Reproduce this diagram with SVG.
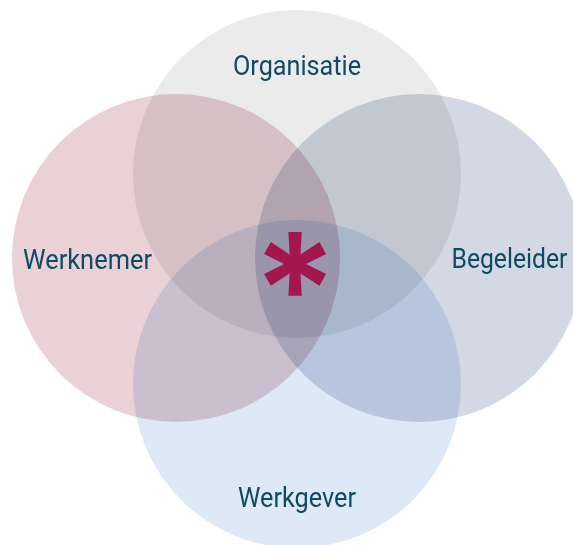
<svg xmlns="http://www.w3.org/2000/svg" width="573" height="545" viewBox="0 0 573 545">
  <style>
    .disc { mix-blend-mode: multiply; }
    .label { font-family: Roboto, "Liberation Sans", sans-serif; font-size: 28px; fill: #0f4a63; text-anchor: middle; }
    .mark { font-family: Inter, "DejaVu Sans", sans-serif; font-size: 156px; font-weight: 600; fill: #a3174f; text-anchor: middle; }
  </style>
  <rect width="573" height="545" fill="#ffffff"/>
  <g style="isolation: isolate">
    <g id="organisatie">
      <circle class="disc" cx="297" cy="174" r="164" fill="#ebebeb"/>
    </g>
    <g id="werknemer">
      <circle class="disc" cx="176" cy="258" r="164" fill="#e9d1d6"/>
    </g>
    <g id="begeleider">
      <circle class="disc" cx="419" cy="258" r="164" fill="#d3d9e4"/>
    </g>
    <g id="werkgever">
      <circle class="disc" cx="297" cy="384" r="164" fill="#dde9f6"/>
    </g>
  </g>
  <g id="labels">
    <text class="label" x="297" y="75" textLength="128" lengthAdjust="spacingAndGlyphs">Organisatie</text>
    <text class="label" x="87.5" y="269" textLength="129" lengthAdjust="spacingAndGlyphs">Werknemer</text>
    <text class="label" x="509.5" y="268" textLength="116" lengthAdjust="spacingAndGlyphs">Begeleider</text>
    <text class="label" x="297" y="507" textLength="118" lengthAdjust="spacingAndGlyphs">Werkgever</text>
  </g>
  <g id="centre">
    <text class="mark" x="295" y="345">*</text>
  </g>
</svg>
